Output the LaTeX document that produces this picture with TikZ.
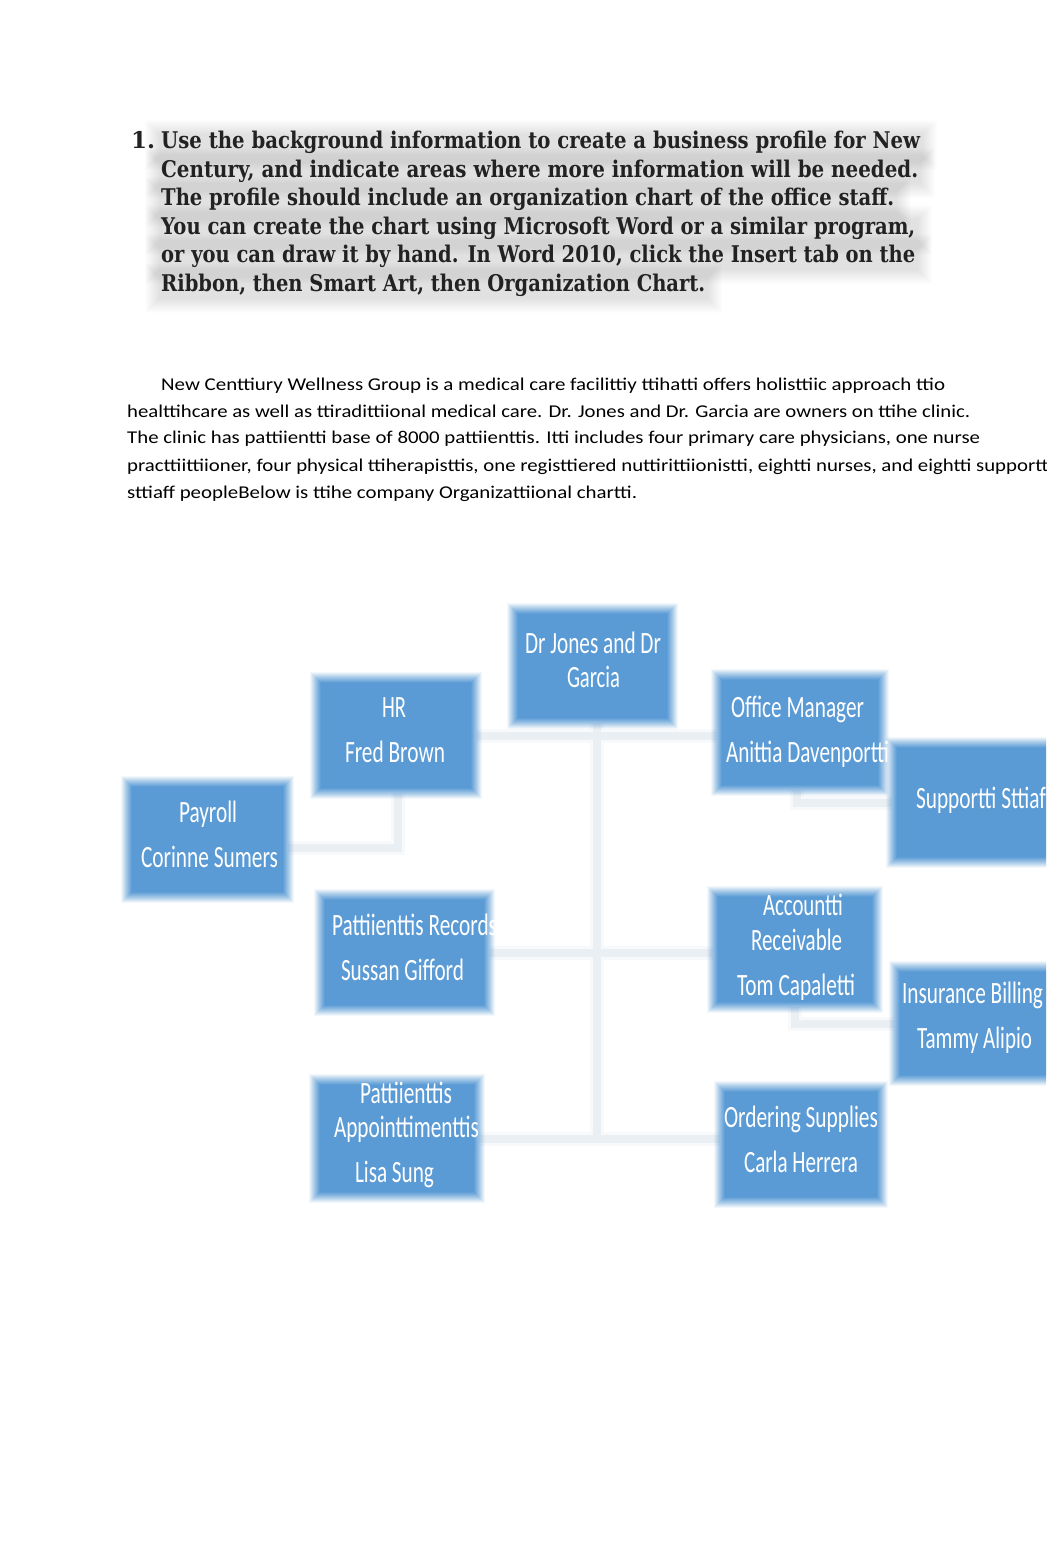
\documentclass[tikz,border=0pt]{standalone}
\usepackage{fontspec}
\usepackage{graphicx}
\newfontfamily\headfont{DejaVu Serif}
\newfontfamily\bodyfont{Carlito}
\newcommand\fitw[2]{\resizebox{#1pt}{\height}{#2}}
\definecolor{boxblue}{HTML}{5B9BD5}
\definecolor{conncol}{HTML}{EAEFF3}
\definecolor{headcol}{HTML}{222222}
\tikzset{
  orgbox/.style={minimum width=#1, inner sep=0pt, draw=none, fill=none},
  headtxt/.style={anchor=base west, inner sep=0pt, text=headcol, font=\headfont\bfseries\fontsize{23}{27}\selectfont},
  paratxt/.style={anchor=base west, inner sep=0pt, text=black, font=\bodyfont\fontsize{18}{22}\selectfont},
  boxtxt/.style={anchor=base, inner sep=0pt, text=white, font=\bodyfont\fontsize{31}{36}\selectfont},
  connwide/.style={draw=conncol!40, line width=14pt},
  conn/.style={draw=conncol, line width=8pt}
}
% soft-edged box: solid core plus fading 1px bands
\newcommand\softbox[1]{%
  \fill[boxblue] ([shift={(5,5)}]#1.north west) rectangle ([shift={(-5,-5)}]#1.south east);
  \foreach \k in {1,...,11}{%
    \pgfmathsetmacro\op{1-(\k-0.5)/11}%
    \fill[boxblue, opacity=\op, even odd rule]
      ([shift={(6-\k,6-\k)}]#1.north west) rectangle ([shift={(\k-6,\k-6)}]#1.south east)
      ([shift={(5-\k,5-\k)}]#1.north west) rectangle ([shift={(\k-5,\k-5)}]#1.south east);}%
}
\newcommand\halo[3]{% x0, baseline, width
  \foreach \k in {0,...,14}{%
    \fill[black, opacity=0.006] (#1-2-\k,#2-16-\k) rectangle (#1+#3+3+\k,#2+6+\k);}%
}
\begin{document}
\begin{tikzpicture}[x=1pt,y=-1pt]
\useasboundingbox (0,0) rectangle (1062,1556);
\fill[white] (0,0) rectangle (1062,1556);
\begin{scope}
\clip (0,0) rectangle (1046,1556);

% heading halo
\halo{161}{150}{759}
\halo{161}{178}{757}
\halo{161}{207}{733}
\halo{161}{235}{754}
\halo{161}{264}{754}
\halo{161}{293}{544}

% heading
\node[headtxt] (num) at (131,148) {1.};
\node[headtxt] (h1) at (161,148) {\fitw{759}{Use the background information to create a business profile for New}};
\node[headtxt] (h2) at (161,177) {\fitw{757}{Century, and indicate areas where more information will be needed.}};
\node[headtxt] (h3) at (161,205) {\fitw{733}{The profile should include an organization chart of the office staff.}};
\node[headtxt] (h4) at (161,234) {\fitw{754}{You can create the chart using Microsoft Word or a similar program,}};
\node[headtxt] (h5) at (161,262) {\fitw{754}{or you can draw it by hand. In Word 2010, click the Insert tab on the}};
\node[headtxt] (h6) at (161,291) {\fitw{544}{Ribbon, then Smart Art, then Organization Chart.}};

% paragraph
\node[paratxt] (p1) at (161,390) {\fitw{784}{New Centtiury Wellness Group is a medical care facilittiy ttihatti offers holisttiic approach ttio}};
\node[paratxt] (p2) at (127,417) {\fitw{843}{healttihcare as well as ttiradittiional medical care. Dr. Jones and Dr. Garcia are owners on ttihe clinic.}};
\node[paratxt] (p3) at (127,443) {\fitw{853}{The clinic has pattiientti base of 8000 pattiienttis. Itti includes four primary care physicians, one nurse}};
\node[paratxt] (p4) at (127,471) {\fitw{926}{practtiittiioner, four physical ttiherapisttis, one registtiered nuttirittiionistti, eightti nurses, and eightti supportti}};
\node[paratxt] (p5) at (127,498) {\fitw{510}{sttiaff peopleBelow is ttihe company Organizattiional chartti.}};

% boxes (positions)
\node[orgbox=159pt, minimum height=114pt] (drj) at (592.5,666) {};
\node[orgbox=160pt, minimum height=115pt] (hr)  at (396,735.5) {};
\node[orgbox=161pt, minimum height=115pt] (pay) at (207.5,839.5) {};
\node[orgbox=166pt, minimum height=115pt] (om)  at (800,732.5) {};
\node[orgbox=160pt, minimum height=119pt] (sup) at (972,802.5) {};
\node[orgbox=169pt, minimum height=115pt] (pr)  at (404.5,952.5) {};
\node[orgbox=164pt, minimum height=115pt] (ar)  at (795,949.5) {};
\node[orgbox=160pt, minimum height=113pt] (ins) at (975,1023.5) {};
\node[orgbox=164pt, minimum height=117pt] (pa)  at (397,1138.5) {};
\node[orgbox=162pt, minimum height=115pt] (os)  at (801,1144.5) {};

% connectors
\foreach \st in {connwide,conn}{%
  \draw[\st] ([xshift=4pt]drj.south) -- ([xshift=4pt]drj.south |- pa.east);
  \draw[\st] (hr.east) -- (hr.east -| om.west);
  \draw[\st] (pr.east) -- (pr.east -| ar.west);
  \draw[\st] (pa.east) -- (pa.east -| os.west);
  \draw[\st] ([xshift=2pt]hr.south) |- ([yshift=-8pt]pay.east);
  \draw[\st] ([xshift=-3pt]om.south) |- (sup.west);
  \draw[\st] (ar.south) |- (ins.west);
}

% box fills
\softbox{drj}\softbox{hr}\softbox{pay}\softbox{om}\softbox{sup}
\softbox{pr}\softbox{ar}\softbox{ins}\softbox{pa}\softbox{os}

% box texts
\node[boxtxt] (drj1) at (593,653) {\fitw{136}{Dr Jones and Dr}};
\node[boxtxt] (drj2) at (593.5,687) {\fitw{53}{Garcia}};
\node[boxtxt] (hr1) at (394,717) {\fitw{24}{HR}};
\node[boxtxt] (hr2) at (395,762) {\fitw{100}{Fred Brown}};
\node[boxtxt] (pay1) at (208,822) {\fitw{58}{Payroll}};
\node[boxtxt] (pay2) at (209.5,867) {\fitw{137}{Corinne Sumers}};
\node[boxtxt] (om1) at (797.5,717) {\fitw{133}{Office Manager}};
\node[boxtxt] (om2) at (807.5,762) {\fitw{163}{Anittia Davenportti}};
\node[boxtxt] (sup1) at (981,808) {\fitw{130}{Supportti Sttiaf}};
\node[boxtxt] (pr1) at (414.5,935) {\fitw{165}{Pattiienttis Records}};
\node[boxtxt] (pr2) at (402.5,980) {\fitw{123}{Sussan Gifford}};
\node[boxtxt] (ar1) at (803,915) {\fitw{80}{Accountti}};
\node[boxtxt] (ar2) at (796.5,950) {\fitw{91}{Receivable}};
\node[boxtxt] (ar3) at (796,995) {\fitw{118}{Tom Capaletti}};
\node[boxtxt] (ins1) at (972.5,1003) {\fitw{141}{Insurance Billing}};
\node[boxtxt] (ins2) at (974.5,1048) {\fitw{115}{Tammy Alipio}};
\node[boxtxt] (pa1) at (406,1103) {\fitw{92}{Pattiienttis}};
\node[boxtxt] (pa2) at (406.5,1137) {\fitw{145}{Appointtimenttis}};
\node[boxtxt] (pa3) at (394.5,1182) {\fitw{79}{Lisa Sung}};
\node[boxtxt] (os1) at (801,1127) {\fitw{154}{Ordering Supplies}};
\node[boxtxt] (os2) at (801,1172) {\fitw{114}{Carla Herrera}};
\end{scope}
\end{tikzpicture}
\end{document}
